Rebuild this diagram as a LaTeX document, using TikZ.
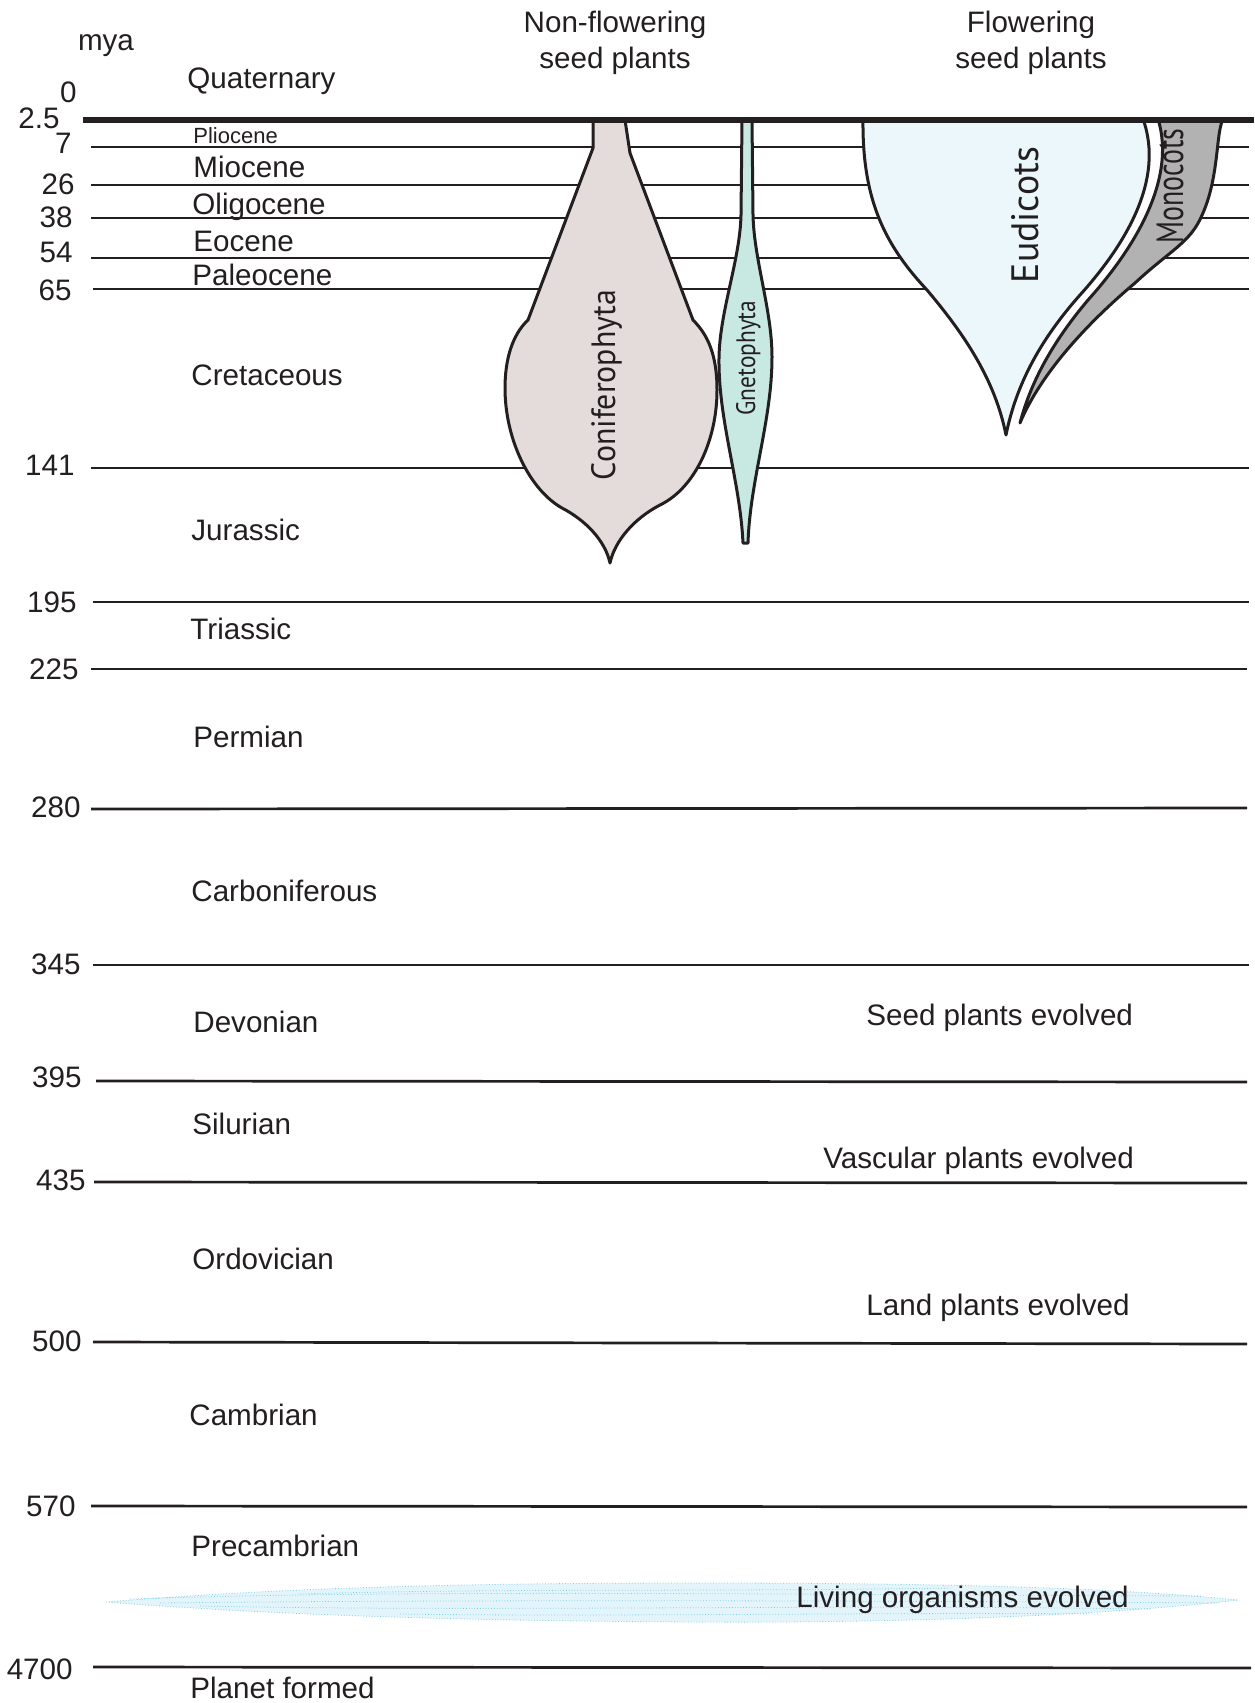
\documentclass[tikz,border=0pt]{standalone}
\usepackage{fontspec}
\setmainfont{Liberation Sans}
\newfontfamily\plantfont{PT Sans}
\usepackage{graphicx}
\definecolor{ink}{RGB}{35,31,32}
\definecolor{conifer}{RGB}{228,219,219}
\definecolor{gneto}{RGB}{200,232,226}
\definecolor{eudi}{RGB}{236,247,252}
\definecolor{mono}{RGB}{178,178,178}
\definecolor{cloudfill}{RGB}{228,244,251}
\definecolor{cloudedge}{RGB}{120,205,230}
\begin{document}
\begin{tikzpicture}[x=0.5pt,y=-0.5pt,
  every node/.style={inner sep=0pt, text=ink},
  era/.style={line width=1.35pt, draw=ink},
  lbl/.style={anchor=west, font=\fontsize{14.8pt}{17pt}\selectfont, text height=10.6pt, text depth=0pt},
  smalllbl/.style={anchor=west, font=\fontsize{11pt}{13pt}\selectfont, text height=7.9pt, text depth=0pt},
  num/.style={anchor=east, font=\fontsize{14.8pt}{17pt}\selectfont, text height=10.6pt, text depth=0pt},
  hdr/.style={anchor=center, font=\fontsize{14.8pt}{17pt}\selectfont, text height=10.6pt, text depth=0pt},
  plant/.style={draw=ink, line width=1.5pt, line join=round},
  plabel/.style={anchor=base, rotate=90},
  cloudtex/.style={cloudedge, densely dotted, line width=0.4pt},
]
\useasboundingbox (0,0) rectangle (1254,1703);
\fill[white] (0,0) rectangle (1254,1703);

% era boundary lines
\draw[era] (91,147) -- (1249,147);
\draw[era] (91,185) -- (1249,185);
\draw[era] (91,218) -- (1249,218);
\draw[era] (91,258) -- (1249,258);
\draw[era] (93,289) -- (1249,289);
\draw[era] (91,468) -- (1249,468);
\draw[era] (93,602) -- (1249,602);
\draw[era] (91,669) -- (1247,669);
\draw[era] (91,809) -- (1247,808);
\draw[era] (93,965) -- (1249,965);
\draw[era] (96,1081) -- (1247,1082);
\draw[era] (94,1182) -- (1247,1183);
\draw[era] (93,1342) -- (1247,1344);
\draw[era] (91,1506) -- (1247,1507);
\draw[era] (93,1667) -- (1251,1668);

% cloud band
\fill[cloudfill] (106,1602) .. controls (300,1586) and (500,1583) .. (700,1583)
  .. controls (900,1583) and (1100,1586) .. (1238,1600)
  .. controls (1100,1616) and (900,1623) .. (700,1622)
  .. controls (500,1621) and (300,1617) .. cycle;
\draw[cloudtex] (106,1602) .. controls (300,1586) and (500,1583) .. (700,1583)
  .. controls (900,1583) and (1100,1586) .. (1238,1600)
  .. controls (1100,1616) and (900,1623) .. (700,1622)
  .. controls (500,1621) and (300,1617) .. cycle;
\draw[cloudtex] (130,1599) .. controls (400,1590) and (700,1594) .. (1200,1596);
\draw[cloudtex] (200,1606) .. controls (500,1612) and (800,1604) .. (1150,1609);
\draw[cloudtex] (300,1594) .. controls (500,1588) and (700,1592) .. (950,1588);
\draw[cloudtex] (400,1614) .. controls (600,1617) and (900,1612) .. (1100,1614);
\draw[cloudtex] (160,1603) .. controls (400,1600) and (800,1600) .. (1220,1603);

% Coniferophyta
\path[plant, fill=conifer] (593,120) -- (593,148) -- (528,320)
  .. controls (512,335) and (505,360) .. (505,388)
  .. controls (505,440) and (530,490) .. (562,508)
  .. controls (585,520) and (605,540) .. (610,563)
  .. controls (615,540) and (635,518) .. (660,505)
  .. controls (695,488) and (717,440) .. (717,390)
  .. controls (717,355) and (708,335) .. (693,320)
  -- (630,153) -- (625,120) -- cycle;

% Gnetophyta
\path[plant, fill=gneto] (742,120) -- (741,215)
  .. controls (740,260) and (720,310) .. (719,357)
  .. controls (718,420) and (740,480) .. (743,543)
  -- (748,543)
  .. controls (750,480) and (772,420) .. (772,357)
  .. controls (772,310) and (754,260) .. (753,215)
  -- (752,120) -- cycle;

% white gap between eudicots and monocots
\fill[white] (1006,435) .. controls (1016,385) and (1040,340) .. (1080,295)
  .. controls (1125,245) and (1165,180) .. (1143,119)
  -- (1158,119)
  .. controls (1177,180) and (1133,250) .. (1088,300)
  .. controls (1050,345) and (1030,385) .. (1020,423) -- cycle;

% Monocots
\path[plant, fill=mono] (1020,423)
  .. controls (1030,385) and (1050,345) .. (1088,300)
  .. controls (1133,250) and (1177,180) .. (1158,119)
  -- (1223,119)
  .. controls (1215,135) and (1220,185) .. (1197,225)
  .. controls (1185,245) and (1165,255) .. (1135,283)
  .. controls (1085,325) and (1040,375) .. (1020,423) -- cycle;

% Eudicots
\path[plant, fill=eudi] (863,119)
  .. controls (862,200) and (885,245) .. (927,290)
  .. controls (965,335) and (995,380) .. (1006,435)
  .. controls (1016,385) and (1040,340) .. (1080,295)
  .. controls (1125,245) and (1165,180) .. (1143,119) -- cycle;

% top (2.5 mya) thick line
\draw[ink, line width=2.8pt] (83,120) -- (1254,120);

% plant labels
\node[plabel] (conif) at (615,385) {\resizebox{95pt}{12pt}{\plantfont Coniferophyta}};
\node[plabel] (gnet) at (755,358) {\resizebox{57.5pt}{9.5pt}{\plantfont Gnetophyta}};
\node[plabel] (eud) at (1038,215) {\resizebox{68pt}{13.5pt}{\plantfont Eudicots}};
\node[plabel] (mon) at (1183,186) {\resizebox{57.5pt}{13.3pt}{\plantfont Monocots}};

% headers
\node[hdr] (h1a) at (615,22) {Non-flowering};
\node[hdr] (h1b) at (615,58) {seed plants};
\node[hdr] (h2a) at (1031,22) {Flowering};
\node[hdr] (h2b) at (1031,58) {seed plants};

% axis
\node[anchor=base, font=\fontsize{14.8pt}{17pt}\selectfont] (mya) at (106,50) {mya};
\node[num] (n0) at (77,92) {0};
\node[num] (n25) at (60,118) {2.5};
\node[num] (n7) at (72,143) {7};
\node[num] (n26) at (75,184) {26};
\node[num] (n38) at (73,217) {38};
\node[num] (n54) at (73,252) {54};
\node[num] (n65) at (72,290) {65};
\node[num] (n141) at (75,465) {141};
\node[num] (n195) at (77,602) {195};
\node[num] (n225) at (79,669) {225};
\node[num] (n280) at (81,807) {280};
\node[num] (n345) at (81,964) {345};
\node[num] (n395) at (82,1077) {395};
\node[num] (n435) at (86,1180) {435};
\node[num] (n500) at (82,1341) {500};
\node[num] (n570) at (76,1506) {570};
\node[num] (n4700) at (73,1669) {4700};

% period labels
\node[lbl] (quat) at (187,78) {Quaternary};
\node[smalllbl] (plio) at (193,135.5) {Pliocene};
\node[lbl] (mio) at (193,167) {Miocene};
\node[lbl] (oli) at (192,204) {Oligocene};
\node[lbl] (eoc) at (193,241) {Eocene};
\node[lbl] (pal) at (192,275) {Paleocene};
\node[lbl] (cre) at (191,375) {Cretaceous};
\node[lbl] (jur) at (191,530) {Jurassic};
\node[lbl] (tri) at (190,629) {Triassic};
\node[lbl] (per) at (193,737) {Permian};
\node[lbl] (car) at (191,891) {Carboniferous};
\node[lbl] (dev) at (193,1022) {Devonian};
\node[lbl] (sil) at (192,1124) {Silurian};
\node[lbl] (ord) at (192,1259) {Ordovician};
\node[lbl] (cam) at (189,1415) {Cambrian};
\node[lbl] (pre) at (191,1546) {Precambrian};
\node[lbl] (pla) at (190,1688) {Planet formed};

% events
\node[lbl] (seed) at (866,1015) {Seed plants evolved};
\node[lbl] (vasc) at (823,1158) {Vascular plants evolved};
\node[lbl] (land) at (866,1305) {Land plants evolved};
\node[lbl] (live) at (796,1597) {Living organisms evolved};
\end{tikzpicture}
\end{document}
